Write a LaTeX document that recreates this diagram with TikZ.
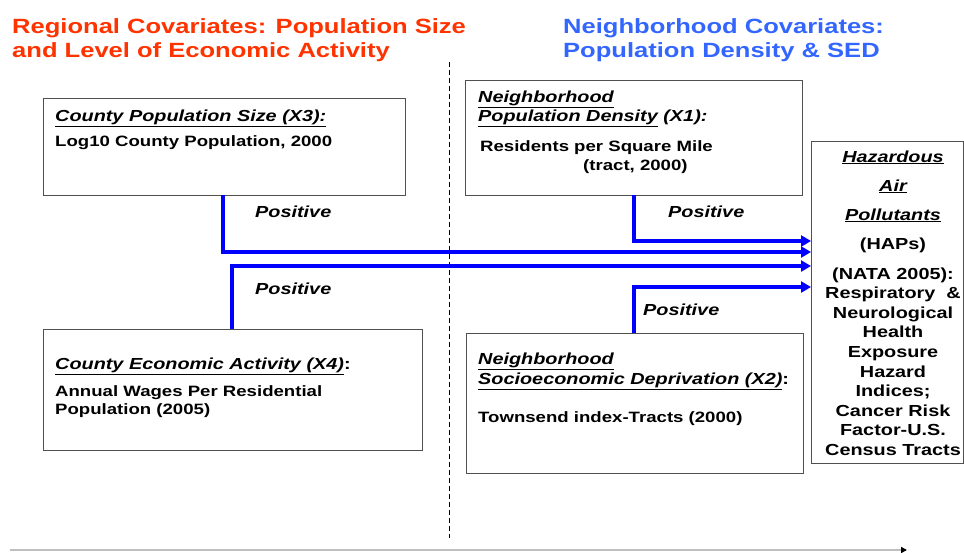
\documentclass[tikz,border=0pt]{standalone}
\usepackage{fontspec}
\setmainfont{Liberation Sans}[FakeStretch=1.24]
\definecolor{main}{RGB}{0,0,255}
\definecolor{second}{RGB}{255,51,0}
\definecolor{third}{RGB}{51,102,255}
\definecolor{frame}{RGB}{80,80,80}
\usetikzlibrary{
	arrows.meta,
	positioning
}
\tikzset{
  % arrow
	cstra/.style      ={-{Triangle[length=10pt,width=11pt]}, line width=4pt, main},
	cstaxis/.style    ={-{Triangle[length=6pt,width=6pt,color=black]}, line width=1.5pt, black!25},
	cstdash/.style    ={line width=0.8pt, dash pattern=on 5pt off 3pt},
  % node
	cstbox/.style     ={draw=frame, line width=0.9pt, anchor=north west, inner sep=0pt, outer sep=0pt},
	csttext/.style    ={anchor=base west, inner sep=0pt, font=\fontsize{15}{18}\selectfont\bfseries},
	csthead/.style    ={anchor=base west, inner sep=0pt, font=\fontsize{16}{19}\selectfont\bfseries\itshape},
	csthap/.style     ={anchor=base, inner sep=0pt, font=\fontsize{16}{19}\selectfont\bfseries},
	csttitle/.style   ={anchor=base west, inner sep=0pt, font=\fontsize{20.6}{24}\selectfont\bfseries},
	cstlabel/.style   ={anchor=base west, inner sep=0pt, font=\fontsize{16}{19}\selectfont\bfseries\itshape}
}

\begin{document}
\begin{tikzpicture}[x=1pt,y=-1pt]
	\useasboundingbox (0,0) rectangle (964,552);
	% titles
	\node[csttitle,second] (regA) at (12,33) {Regional Covariates: Population Size};
	\node[csttitle,second] (regB) at (12,57) {and Level of Economic Activity};
	\node[csttitle,third] (neiA) at (563,33) {Neighborhood Covariates:};
	\node[csttitle,third] (neiB) at (563,57) {Population Density \& SED};
	\draw[cstdash] (449,62)--(449,538);
	% boxes
	\node[cstbox,minimum width=362pt,minimum height=97pt] (x3) at (43,98) {};
	\node[cstbox,minimum width=337pt,minimum height=115pt] (x1) at (465,80) {};
	\node[cstbox,minimum width=379pt,minimum height=121pt] (x4) at (43,329) {};
	\node[cstbox,minimum width=337pt,minimum height=140pt] (x2) at (466,333) {};
	\node[cstbox,minimum width=152pt,minimum height=322pt] (hap) at (811,141) {};
	% box texts
	\node[csthead] (x3head) at (55,121) {\underline{County Population Size (X3):}};
	\node[csttext] (x3body) at (55,146) {Log10 County Population, 2000};
	\node[csthead] (x1headA) at (478,102) {\underline{Neighborhood}};
	\node[csthead] (x1headB) at (478,121) {\underline{Population Density} (X1):};
	\node[csttext] (x1bodyA) at (480,151) {Residents per Square Mile};
	\node[csttext] (x1bodyB) at (583,170) {(tract, 2000)};
	\node[csthead] (x4head) at (55,369) {\underline{County Economic Activity (X4)}\upshape:};
	\node[csttext] (x4bodyA) at (55,396) {Annual Wages Per Residential};
	\node[csttext] (x4bodyB) at (55,414) {Population (2005)};
	\node[csthead] (x2headA) at (478,364) {\underline{Neighborhood}};
	\node[csthead] (x2headB) at (478,384) {\underline{Socioeconomic Deprivation (X2)}\upshape:};
	\node[csttext] (x2body) at (478,422) {Townsend index-Tracts (2000)};
	\node[csthap] (hapA) at (893,162) {\itshape\underline{Hazardous}};
	\node[csthap] (hapB) at (893,191) {\itshape\underline{Air}};
	\node[csthap] (hapC) at (893,220) {\itshape\underline{Pollutants}};
	\node[csthap] (hapD) at (893,249) {(HAPs)};
	\node[csthap] (hapE) at (893,279) {(NATA 2005):};
	\node[csthap] (hapF) at (893,298) {Respiratory~~\&};
	\node[csthap] (hapG) at (893,318) {Neurological};
	\node[csthap] (hapH) at (893,337) {Health};
	\node[csthap] (hapI) at (893,357) {Exposure};
	\node[csthap] (hapJ) at (893,377) {Hazard};
	\node[csthap] (hapK) at (893,396) {Indices;};
	\node[csthap] (hapL) at (893,416) {Cancer Risk};
	\node[csthap] (hapM) at (893,435) {Factor-U.S.};
	\node[csthap] (hapN) at (893,455) {Census Tracts};
	% arrows
	\draw[cstra] ([xshift=180pt]x3.south west) |- ([yshift=50pt]hap.west);
	\draw[cstra] ([xshift=189pt]x4.north west) |- ([yshift=36pt]hap.west);
	\draw[cstra] ([xshift=169pt]x1.south west) |- ([yshift=61pt]hap.west);
	\draw[cstra] ([xshift=168pt]x2.north west) |- ([yshift=15pt]hap.west);
	\node[cstlabel] (posA) at (255,217) {Positive};
	\node[cstlabel] (posB) at (668,217) {Positive};
	\node[cstlabel] (posC) at (255,294) {Positive};
	\node[cstlabel] (posD) at (643,315) {Positive};
	\draw[cstaxis] (10,550)--(907,550);
\end{tikzpicture}
\end{document}
